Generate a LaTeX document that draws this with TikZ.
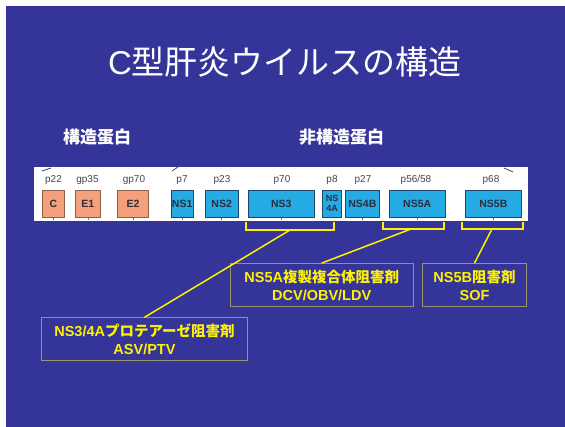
\documentclass[tikz,border=0pt]{standalone}
\usepackage{fontspec}
\setmainfont{Noto Sans CJK JP}
\newfontfamily\arialf{Liberation Sans}
\usetikzlibrary{calc}
\definecolor{slide}{RGB}{52,52,153}
\definecolor{salmonF}{RGB}{244,160,122}
\definecolor{salmonB}{RGB}{140,95,70}
\definecolor{blueF}{RGB}{38,170,228}
\definecolor{blueB}{RGB}{30,70,110}
\definecolor{khaki}{RGB}{150,150,110}
\definecolor{textdark}{RGB}{45,45,60}
\definecolor{labgray}{RGB}{70,70,70}
\newcommand{\lat}[1]{{\arialf #1}}
\begin{document}
\begin{tikzpicture}[x=1pt,y=-1pt,
  gbox/.style={line width=0.8pt, inner sep=0pt, outer sep=0pt, minimum height=27pt,
    font=\arialf\bfseries\fontsize{10.5}{11}\selectfont, text=textdark},
  sbox/.style={gbox, draw=salmonB, fill=salmonF},
  bbox/.style={gbox, draw=blueB, fill=blueF},
  plab/.style={font=\arialf\fontsize{10}{11}\selectfont, text=labgray, inner sep=0pt},
  head/.style={text=white, font=\bfseries\fontsize{17}{20}\selectfont, inner sep=0pt},
  abox/.style={draw=khaki, line width=0.8pt, text=yellow, align=center, inner sep=0pt,
    font=\bfseries\fontsize{14.5}{18}\selectfont, minimum height=43pt},
  brk/.style={draw=yellow, line width=2pt, line join=miter},
  conn/.style={draw=yellow, line width=1.5pt},
  slash/.style={draw=labgray, line width=0.8pt},
  tick/.style={draw=gray, line width=0.6pt}
]
\useasboundingbox (0,0) rectangle (565,427);
\fill[white] (0,0) rectangle (565,427);
\fill[slide] (6,6) rectangle (565,427);
\fill[white] (34,167) rectangle (528,221);

% title and headings
\node[text=white, font=\fontsize{33}{36}\selectfont, inner sep=0pt] (title) at (285,62) {\lat{C}型肝炎ウイルスの構造};
\node[head] (hs) at (97,137) {構造蛋白};
\node[head] (hn) at (341.5,137) {非構造蛋白};

% protein boxes
\node[sbox, minimum width=22.4pt] (C) at (53.5,203.5) {C};
\node[sbox, minimum width=25.7pt] (E1) at (87.9,203.5) {E1};
\node[sbox, minimum width=30.6pt] (E2) at (133,203.5) {E2};
\node[bbox, minimum width=22.3pt] (NS1) at (182.2,203.5) {NS1};
\node[bbox, minimum width=33.3pt] (NS2) at (221.7,203.5) {NS2};
\node[bbox, minimum width=66pt] (NS3) at (281.3,203.5) {NS3};
\node[bbox, minimum width=18.6pt, align=center, font=\arialf\bfseries\fontsize{9}{9.5}\selectfont] (NS4A) at (332,203.5) {NS\\4A};
\node[bbox, minimum width=33.3pt] (NS4B) at (362.4,203.5) {NS4B};
\node[bbox, minimum width=55.7pt] (NS5A) at (417.2,203.5) {NS5A};
\node[bbox, minimum width=55.3pt] (NS5B) at (493.4,203.5) {NS5B};

% protein labels
\node[plab] (lC) at (53.5,180) {p22};
\node[plab] (lE1) at (87.5,180) {gp35};
\node[plab] (lE2) at (134,180) {gp70};
\node[plab] (lNS1) at (182,180) {p7};
\node[plab] (lNS2) at (222,180) {p23};
\node[plab] (lNS3) at (282,180) {p70};
\node[plab] (lNS4A) at (332,180) {p8};
\node[plab] (lNS4B) at (363,180) {p27};
\node[plab] (lNS5A) at (416,180) {p56/58};
\node[plab] (lNS5B) at (491,180) {p68};

% small marks
\coordinate (s1a) at (42,171); \coordinate (s1b) at (51,168);
\coordinate (s2a) at (172,171); \coordinate (s2b) at (178,167);
\coordinate (s3a) at (504,168); \coordinate (s3b) at (513,172);
\draw[slash] (s1a) -- (s1b);
\draw[slash] (s2a) -- (s2b);
\draw[slash] (s3a) -- (s3b);
\foreach \n in {C,E1,E2,NS1,NS2,NS3,NS4B,NS5A,NS5B}{
  \draw[tick] ($(\n.south)+(0,1.5)$) -- ($(\n.south)+(0,3)$);
}

% brackets
\coordinate (b1l) at (245.7,222); \coordinate (b1r) at (334,222);
\coordinate (b2l) at (383,222); \coordinate (b2r) at (444,222);
\coordinate (b3l) at (462,222); \coordinate (b3r) at (522.7,222);
\draw[brk] (b1l) -- ++(0,8) -| (b1r);
\draw[brk] (b2l) -- ++(0,7) -| (b2r);
\draw[brk] (b3l) -- ++(0,7) -| (b3r);
\coordinate (b1) at (290,230);
\coordinate (b2) at (411,229);
\coordinate (b3) at (492,229);

% annotation boxes
\node[abox, minimum width=205.6pt] (a1) at (144.5,339.2) {\lat{NS3/4A}プロテアーゼ阻害剤\\\lat{ASV/PTV}};
\node[abox, minimum width=183.3pt] (a2) at (321.7,285) {\lat{NS5A}複製複合体阻害剤\\\lat{DCV/OBV/LDV}};
\node[abox, minimum width=104.4pt] (a3) at (474.5,285) {\lat{NS5B}阻害剤\\\lat{SOF}};

% connectors
\draw[conn] (b1) -- (a1.north);
\draw[conn] (b2) -- (a2.north);
\draw[conn] (b3) -- (a3.north);
\end{tikzpicture}
\end{document}
